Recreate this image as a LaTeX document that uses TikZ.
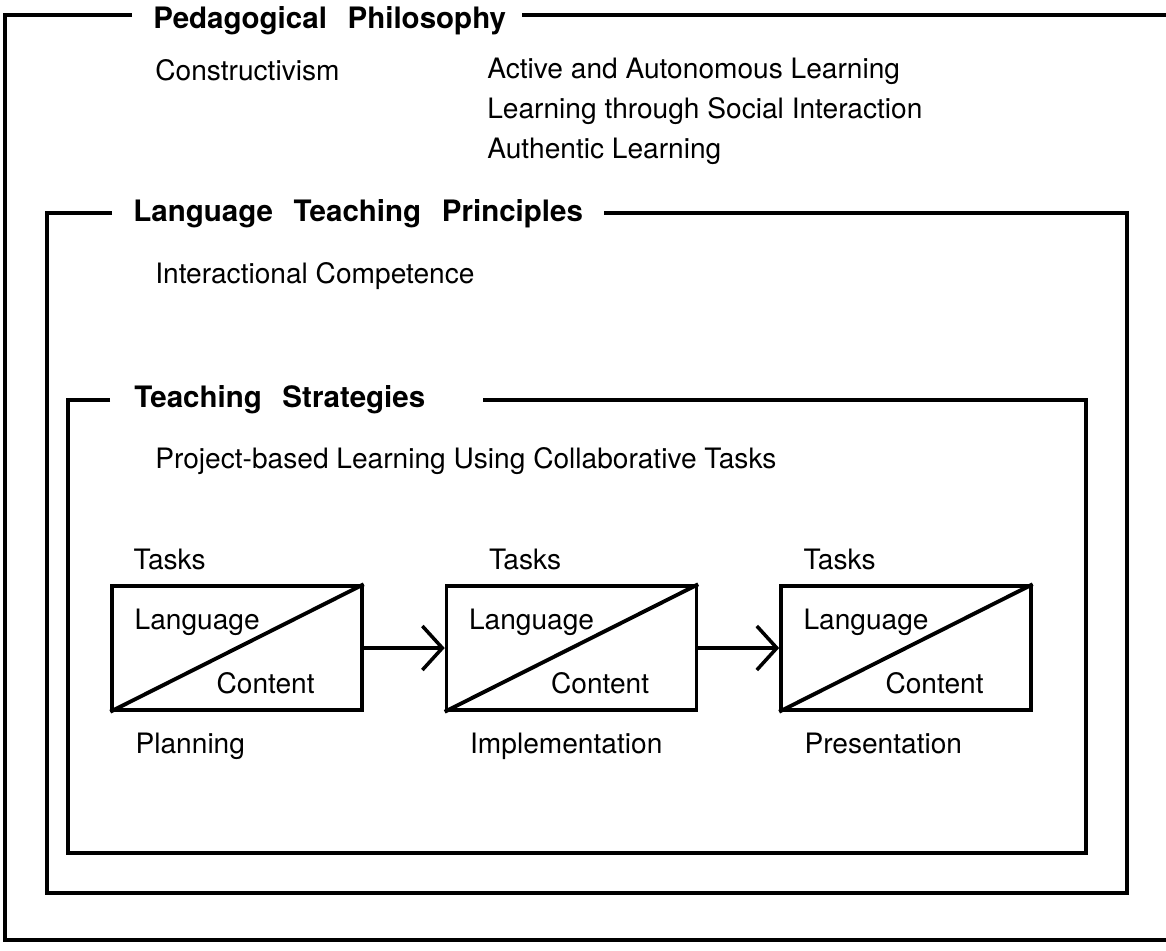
\documentclass[tikz,border=0pt]{standalone}
\usepackage{fontspec}
\setmainfont{TeX Gyre Heros}
\usepackage{tikz}
\usetikzlibrary{positioning,arrows.meta,calc}

\begin{document}
\begin{tikzpicture}[
		x=0.02cm, y=-0.02cm,
		node distance=1.62cm,
		frameline/.style={line width=2pt},
		frametitle/.style={
			anchor=west,
			inner sep=0pt,
			font={\bfseries\fontsize{16.8}{20}\selectfont\spaceskip=0.7em\relax}
		},
		plaintext/.style={
			anchor=base west,
			inner sep=0pt,
			font={\fontsize{16}{19}\selectfont}
		},
		taskbox/.style={
			draw,
			line width=2pt,
			minimum width=5cm,
			minimum height=2.48cm,
			inner sep=0pt
		},
		diagonal/.style={line width=2.2pt},
		arrow/.style={-{Straight Barb[length=0.4cm, width=0.88cm]}, line width=2pt}
	]
		\useasboundingbox (0,0) rectangle (1166,950);
		\clip (0,0) rectangle (1166,950);

		\node[frametitle] (philtitle) at (153,21) {Pedagogical Philosophy};
		\draw[frameline] (132,15) -- (5,15) -- (5,940) -- (1180,940) -- (1180,15) -- (522,15);
		\node[plaintext] (constructivism) at (155,80) {Constructivism};
		\node[plaintext] (active) at (487,78) {Active and Autonomous Learning};
		\node[plaintext] (social) at (487,118) {Learning through Social Interaction};
		\node[plaintext] (authentic) at (487,158) {Authentic Learning};

		\node[frametitle] (principtitle) at (133,214) {Language Teaching Principles};
		\draw[frameline] (112,213) -- (47,213) -- (47,893) -- (1127,893) -- (1127,213) -- (604,213);
		\node[plaintext] (competence) at (155,283) {Interactional Competence};

		\node[frametitle] (strattitle) at (134,400) {Teaching Strategies};
		\draw[frameline] (110,400) -- (68,400) -- (68,853) -- (1086,853) -- (1086,400) -- (483,400);
		\node[plaintext] (project) at (155,468) {Project-based Learning Using Collaborative Tasks};

		\node[taskbox] (planbox) at (237,648) {};
		\node[taskbox, right=of planbox] (implbox) {};
		\node[taskbox, right=of implbox] (presbox) {};

		\foreach \b/\t/\stage in {planbox/23/Planning, implbox/44/Implementation, presbox/24/Presentation} {
			\draw[diagonal] (\b.south west) -- (\b.north east);
			\node[plaintext] (\b-tasks) at ($(\b.north west)+(\t,-15)$) {Tasks};
			\node[plaintext] (\b-lang) at ($(\b.north west)+(24,45)$) {Language};
			\node[plaintext] (\b-cont) at ($(\b.south west)+(106,-18)$) {Content};
			\node[plaintext] (\b-stage) at ($(\b.south west)+(25,42)$) {\stage};
		}

		\draw[arrow] (planbox) -- (implbox);
		\draw[arrow] (implbox) -- (presbox);
	\end{tikzpicture}
\end{document}
